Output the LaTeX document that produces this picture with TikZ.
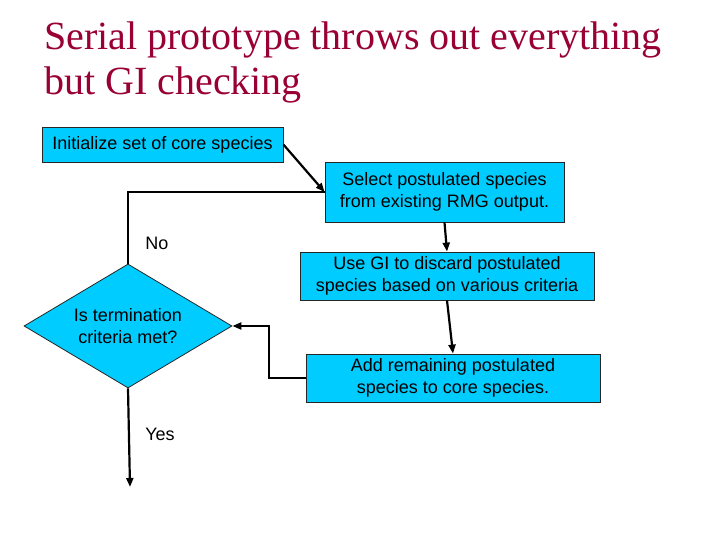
\documentclass[tikz,border=0pt]{standalone}
\usepackage{fontspec}
\setmainfont{Liberation Serif}
\setsansfont{Liberation Sans}
\usetikzlibrary{shapes.geometric,arrows.meta}
\definecolor{boxcyan}{RGB}{0,204,255}
\definecolor{titlered}{RGB}{153,0,51}
\tikzset{
	stepbox/.style={draw=black!85, line width=0.8pt, fill=boxcyan, font=\sffamily\fontsize{18}{22}\selectfont, align=center, inner sep=0pt},
	flowline/.style={line width=2.2pt},
	flow/.style={flowline, -{Triangle[length=9pt,width=7pt]}},
	answer/.style={font=\sffamily\fontsize{18}{20}\selectfont}
}

\begin{document}
\begin{tikzpicture}[x=1pt,y=-1pt]
		%%%%% START %%%%%
		\useasboundingbox (0,0) rectangle (720,540);
		
		\node[anchor=base west, align=left, inner sep=0pt, text=titlered, font=\fontsize{40}{45}\selectfont] (title) at (44,95) {Serial prototype throws out everything\\but GI checking};
		
		\node[stepbox, minimum width=241pt, minimum height=35pt] (init) at (162.5,144.5) {Initialize set of core species};
		\node[stepbox, minimum width=239pt, minimum height=60pt] (select) at (444.5,192) {Select postulated species\\from existing RMG output.};
		\node[stepbox, minimum width=294pt, minimum height=48pt] (use) at (447,276) {Use GI to discard postulated\\species based on various criteria};
		\node[stepbox, minimum width=294pt, minimum height=48pt] (add) at (453,378) {Add remaining postulated\\species to core species.};
		
		\node[stepbox, diamond, aspect=1.68, minimum width=208pt, minimum height=124pt] (term) at (128,326) {Is termination\\criteria met?};
		
		\coordinate (bend) at (269,378);
		\coordinate (exit) at (130,487);
		
		\draw[flow] (init.east) -- (select.west);
		\draw[flowline] (term.north) |- (select.west);
		\draw[flow] (select.south) -- (use.north);
		\draw[flow] (use.south) -- (add.north);
		\draw[flow] (add.west) -- (bend) |- (term.east);
		\draw[flow] (term.south) -- (exit);
		
		\node[answer] (no) at (157,243) {No};
		\node[answer] (yes) at (160,434) {Yes};
		%%%%% END %%%%%
\end{tikzpicture}
\end{document}
